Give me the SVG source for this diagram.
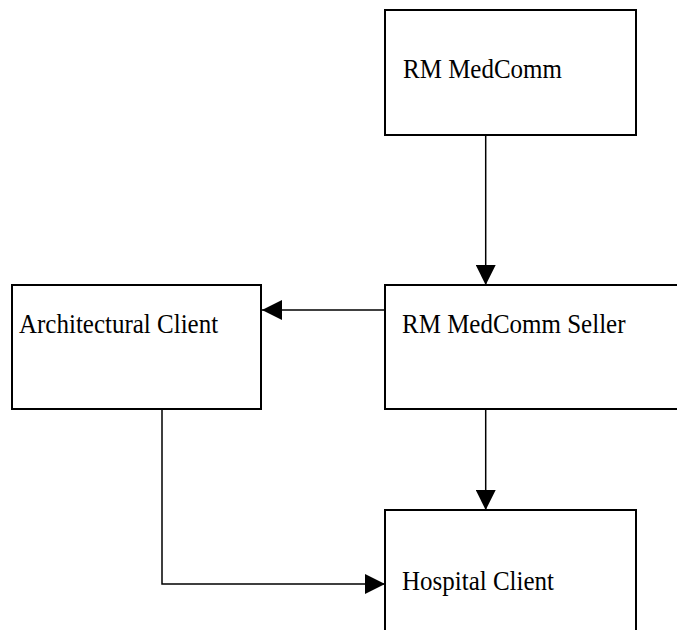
<svg xmlns="http://www.w3.org/2000/svg" width="677" height="630" viewBox="0 0 677 630">
<defs>
<style>
.box{fill:#fff;stroke:#000;stroke-width:2}
.lbl{font-family:"Liberation Serif","Times New Roman",serif;font-size:25px;fill:#000}
.con{fill:none;stroke:#000;stroke-width:1.5}
</style>
<marker id="ah" markerWidth="20" markerHeight="20" viewBox="0 0 20 20" refX="20" refY="10" orient="auto" markerUnits="userSpaceOnUse">
<path d="M0,0 L20,10 L0,20 Z" fill="#000"/>
</marker>
</defs>
<rect width="677" height="630" fill="#fff"/>
<g id="connectors">
<line class="con" x1="485.7" y1="135" x2="485.7" y2="285" marker-end="url(#ah)"/>
<line class="con" x1="385" y1="310" x2="262" y2="310" marker-end="url(#ah)"/>
<line class="con" x1="485.7" y1="409" x2="485.7" y2="510" marker-end="url(#ah)"/>
<polyline class="con" points="162,409 162,584 385,584" marker-end="url(#ah)"/>
</g>
<g id="rm-medcomm">
<rect class="box" x="385" y="10" width="251" height="125"/>
<text class="lbl" transform="translate(403,78) scale(1,1.1)">RM MedComm</text>
</g>
<g id="rm-medcomm-seller">
<rect class="box" x="385" y="285" width="320" height="124"/>
<text class="lbl" transform="translate(402,333) scale(1,1.1)">RM MedComm Seller</text>
</g>
<g id="architectural-client">
<rect class="box" x="12" y="285" width="249" height="124"/>
<text class="lbl" transform="translate(19,333) scale(1,1.1)">Architectural Client</text>
</g>
<g id="hospital-client">
<rect class="box" x="385" y="510" width="251" height="200"/>
<text class="lbl" transform="translate(402,590) scale(1,1.1)">Hospital Client</text>
</g>
</svg>
